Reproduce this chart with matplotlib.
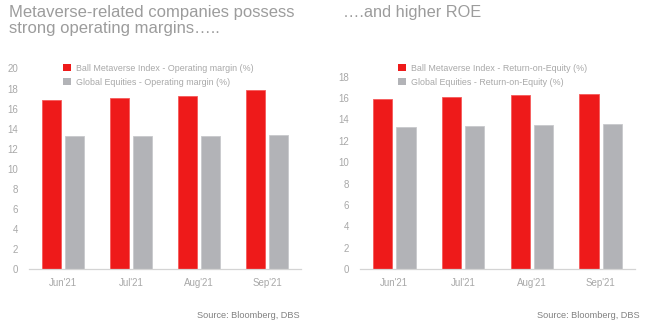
import matplotlib
matplotlib.use("Agg")
import matplotlib.pyplot as plt
import numpy as np
from matplotlib.patches import Patch

plt.rcParams["font.family"] = ["Liberation Sans", "DejaVu Sans"]

months = ["Jun'21", "Jul'21", "Aug'21", "Sep'21"]
ball_margin = [16.9, 17.1, 17.3, 17.9]
global_margin = [13.3, 13.3, 13.3, 13.4]
ball_roe = [15.9, 16.1, 16.3, 16.4]
global_roe = [13.3, 13.4, 13.5, 13.6]

RED = "#ee1a1a"
GREY = "#b2b3b7"
TEXT = "#a8a8a8"
TITLE = "#9c9c9c"

W, H = 647, 325
fig = plt.figure(figsize=(W / 100, H / 100), dpi=100)


def px_axes(x0, x1, y_top, y_bottom):
    return fig.add_axes([x0 / W, 1 - y_bottom / H, (x1 - x0) / W, (y_bottom - y_top) / H])


def draw_panel(ax, red_vals, grey_vals, ymax, labels, legend_xy):
    x = np.arange(len(months))
    ax.bar(x - 0.17, red_vals, width=0.28, color=RED, edgecolor="#f55a5a", linewidth=0.6)
    ax.bar(x + 0.17, grey_vals, width=0.28, color=GREY, edgecolor="#c8c9cc", linewidth=0.6)
    ax.set_xlim(-0.5, len(months) - 0.5)
    ax.set_ylim(0, ymax)
    ax.set_yticks(np.arange(0, ymax + 0.1, 2))
    ax.set_xticks(x)
    ax.set_xticklabels(months)
    for side in ["top", "right", "left"]:
        ax.spines[side].set_visible(False)
    ax.spines["bottom"].set_color("#d4d4d4")
    ax.spines["bottom"].set_linewidth(0.9)
    ax.tick_params(axis="both", length=0, colors=TEXT, labelsize=7.0)
    ax.tick_params(axis="y", pad=8)
    ax.tick_params(axis="x", pad=6)
    handles = [Patch(facecolor=RED, edgecolor="none"), Patch(facecolor=GREY, edgecolor="none")]
    leg = fig.legend(
        handles,
        labels,
        loc="upper left",
        bbox_to_anchor=(legend_xy[0] / W, 1 - legend_xy[1] / H),
        frameon=False,
        fontsize=6.4,
        handlelength=0.85,
        handleheight=0.85,
        handletextpad=0.65,
        labelspacing=0.55,
        borderpad=0,
        borderaxespad=0,
    )
    for t in leg.get_texts():
        t.set_color(TEXT)


ax_l = px_axes(29, 301, 68.5, 269.3)
draw_panel(
    ax_l,
    ball_margin,
    global_margin,
    20,
    ["Ball Metaverse Index - Operating margin (%)", "Global Equities - Operating margin (%)"],
    (63, 64),
)

ax_r = px_axes(360, 635, 76.5, 269.3)
draw_panel(
    ax_r,
    ball_roe,
    global_roe,
    18,
    ["Ball Metaverse Index - Return-on-Equity (%)", "Global Equities - Return-on-Equity (%)"],
    (398, 64),
)

fig.text(9 / W, 1 - 5 / H, "Metaverse-related companies possess\nstrong operating margins…..",
         ha="left", va="top", fontsize=12, color=TITLE, linespacing=1.12)
fig.text(343 / W, 1 - 5 / H, "….and higher ROE",
         ha="left", va="top", fontsize=11.8, color=TITLE)

fig.text(300 / W, 1 - 315 / H, "Source: Bloomberg, DBS", ha="right", va="center", fontsize=6.6, color="#808080")
fig.text(640 / W, 1 - 315 / H, "Source: Bloomberg, DBS", ha="right", va="center", fontsize=6.6, color="#808080")

fig.savefig("out.png", dpi=100)
